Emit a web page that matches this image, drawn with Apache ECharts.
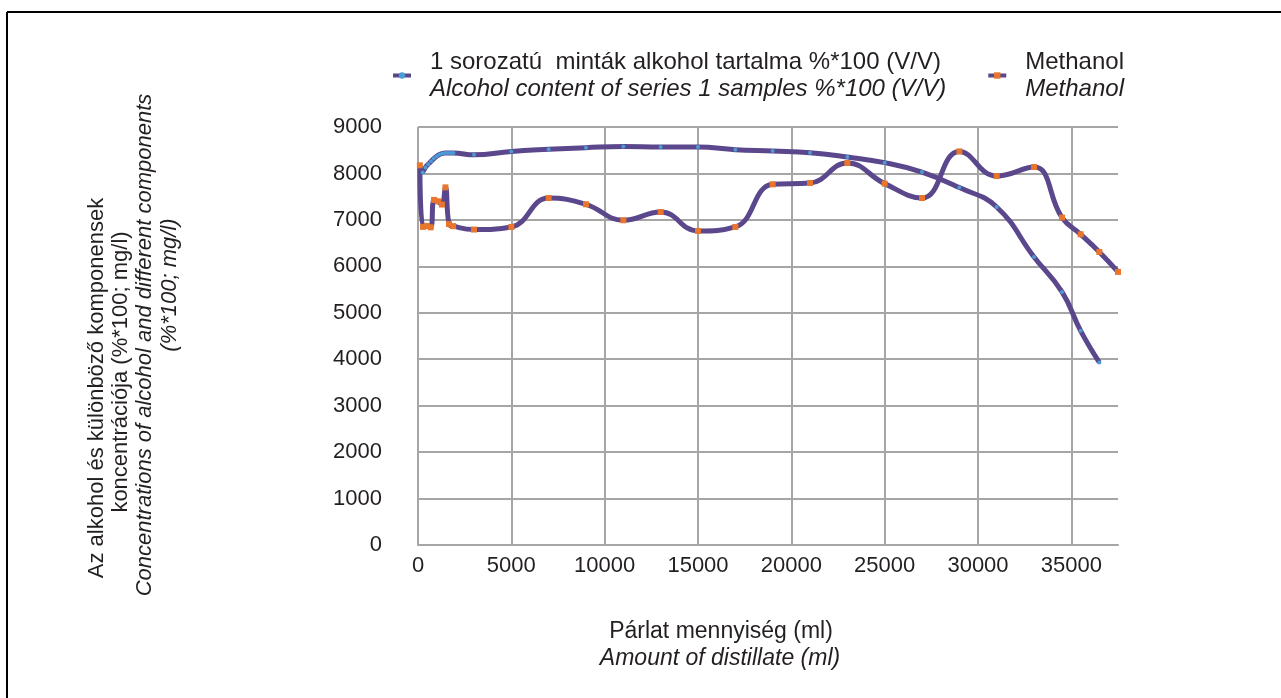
<!DOCTYPE html>
<html>
<head>
<meta charset="utf-8">
<script src="https://cdn.jsdelivr.net/npm/echarts@6/dist/echarts.min.js"></script>
<style>
html,body{margin:0;padding:0;background:#fff;}
#chart{width:1281px;height:698px;}
</style>
</head>
<body>
<div id="chart"></div>
<script>
// ---- data ----
const alcoholName = '1 sorozatú  minták alkohol tartalma %*100 (V/V)';
const alcoholNameEn = 'Alcohol content of series 1 samples %*100 (V/V)';
const methanolName = 'Methanol';
const methanolNameEn = 'Methanol';

const alcoholX = [250, 400, 550, 700, 850, 1000, 1150, 1300, 1450, 1600, 1750, 1900, 3000, 5000, 7000, 9000, 11000, 13000, 15000, 17000, 19000, 21000, 23000, 25000, 27000, 29000, 31000, 33000, 34500, 35500, 36500];
const alcoholY = [8020, 8130, 8200, 8260, 8320, 8370, 8410, 8430, 8440, 8440, 8440, 8440, 8400, 8475, 8520, 8555, 8580, 8570, 8570, 8512, 8482, 8447, 8353, 8232, 8030, 7695, 7278, 6203, 5450, 4612, 3932];

const methanolX = [100, 270, 480, 680, 860, 1070, 1280, 1470, 1660, 1880, 3000, 5000, 7000, 9000, 11000, 13000, 15000, 17000, 19000, 21000, 23000, 25000, 27000, 29000, 31000, 33000, 34500, 35500, 36500, 37500];
const methanolY = [8175, 6850, 6870, 6840, 7430, 7400, 7330, 7700, 6910, 6865, 6792, 6848, 7471, 7336, 6992, 7170, 6762, 6848, 7766, 7794, 8224, 7781, 7471, 8475, 7944, 8138, 7050, 6690, 6310, 5880];

const yTitleHu = ['Az alkohol és különböző komponensek', 'koncentrációja (%*100; mg/l)'];
const yTitleEn = ['Concentrations of alcohol and different components', '(%*100; mg/l)'];
const xTitleHu = 'Párlat mennyiség (ml)';
const xTitleEn = 'Amount of distillate (ml)';

// ---- chart ----
const FONT = '"Liberation Sans", Arial, Helvetica, sans-serif';
const LINE = '#5b478c';
const BLUE = '#4a9bd6';
const ORANGE = '#e8762d';
const chart = echarts.init(document.getElementById('chart'), null, {renderer: 'canvas'});

function pairs(xs, ys) { return xs.map((x, i) => [x, ys[i]]); }

const rich = {
  a: {fontFamily: FONT, fontSize: 24, color: '#231f20', lineHeight: 27, padding: [0, 0, 0, 14]},
  b: {fontFamily: FONT, fontSize: 24, color: '#231f20', fontStyle: 'italic', lineHeight: 27, padding: [0, 0, 0, 14]}
};

const option = {
  animation: false,
  backgroundColor: '#ffffff',
  grid: {left: 418, right: 163, top: 127, bottom: 153, containLabel: false},
  legend: {
    left: 386, top: 45,
    itemWidth: 18, itemHeight: 8, itemGap: 40,
    data: [
      {name: alcoholName, itemStyle: {color: BLUE}, lineStyle: {color: LINE, width: 4}},
      {name: methanolName, itemStyle: {color: ORANGE}, lineStyle: {color: LINE, width: 4}}
    ],
    formatter: function (name) {
      if (name === alcoholName) return '{a|' + alcoholName + '}\n{b|' + alcoholNameEn + '}';
      return '{a|' + methanolName + '}\n{b|' + methanolNameEn + '}';
    },
    textStyle: {rich: rich}
  },
  xAxis: {
    type: 'value', min: 0, max: 37500, interval: 5000,
    axisLine: {show: true, lineStyle: {color: '#a6a6a6', width: 2}},
    axisTick: {show: false},
    axisLabel: {showMaxLabel: false, margin: 10, color: '#231f20', fontFamily: FONT, fontSize: 22,
      formatter: v => String(v)},
    splitLine: {show: true, showMaxLine: false, lineStyle: {color: '#a6a6a6', width: 2}}
  },
  yAxis: {
    type: 'value', min: 0, max: 9000, interval: 1000,
    axisLine: {show: false},
    axisTick: {show: false},
    axisLabel: {margin: 36, color: '#231f20', fontFamily: FONT, fontSize: 22,
      formatter: v => String(v)},
    splitLine: {show: true, lineStyle: {color: '#a6a6a6', width: 2}}
  },
  series: [
    {
      name: alcoholName, type: 'line', smooth: 0.45,
      data: pairs(alcoholX, alcoholY),
      symbol: 'circle', symbolSize: 4, showSymbol: true,
      lineStyle: {color: LINE, width: 5},
      itemStyle: {color: BLUE, borderWidth: 0},
      z: 3
    },
    {
      name: methanolName, type: 'line', smooth: 0.45,
      data: pairs(methanolX, methanolY),
      symbol: 'rect', symbolSize: 6, showSymbol: true,
      lineStyle: {color: LINE, width: 5},
      itemStyle: {color: ORANGE, borderWidth: 0},
      z: 2
    }
  ],
  graphic: [
    {type: 'line', shape: {x1: 7, y1: 12, x2: 1281, y2: 12}, style: {stroke: '#000', lineWidth: 2}},
    {type: 'line', shape: {x1: 7, y1: 12, x2: 7, y2: 698}, style: {stroke: '#000', lineWidth: 2}},
    {type: 'text', x: 97, y: 388, rotation: Math.PI / 2,
      style: {text: yTitleHu[0], font: '22px ' + FONT, fill: '#231f20', textAlign: 'center', textVerticalAlign: 'middle'}},
    {type: 'text', x: 121, y: 372, rotation: Math.PI / 2,
      style: {text: yTitleHu[1], font: '22px ' + FONT, fill: '#231f20', textAlign: 'center', textVerticalAlign: 'middle'}},
    {type: 'text', x: 145, y: 345, rotation: Math.PI / 2,
      style: {text: yTitleEn[0], font: 'italic 22px ' + FONT, fill: '#231f20', textAlign: 'center', textVerticalAlign: 'middle'}},
    {type: 'text', x: 170, y: 285, rotation: Math.PI / 2,
      style: {text: yTitleEn[1], font: 'italic 22px ' + FONT, fill: '#231f20', textAlign: 'center', textVerticalAlign: 'middle'}},
    {type: 'text', x: 721, y: 632,
      style: {text: xTitleHu, font: '23px ' + FONT, fill: '#231f20', textAlign: 'center', textVerticalAlign: 'middle'}},
    {type: 'text', x: 720, y: 659,
      style: {text: xTitleEn, font: 'italic 23px ' + FONT, fill: '#231f20', textAlign: 'center', textVerticalAlign: 'middle'}}
  ]
};
chart.setOption(option);
</script>
</body>
</html>
